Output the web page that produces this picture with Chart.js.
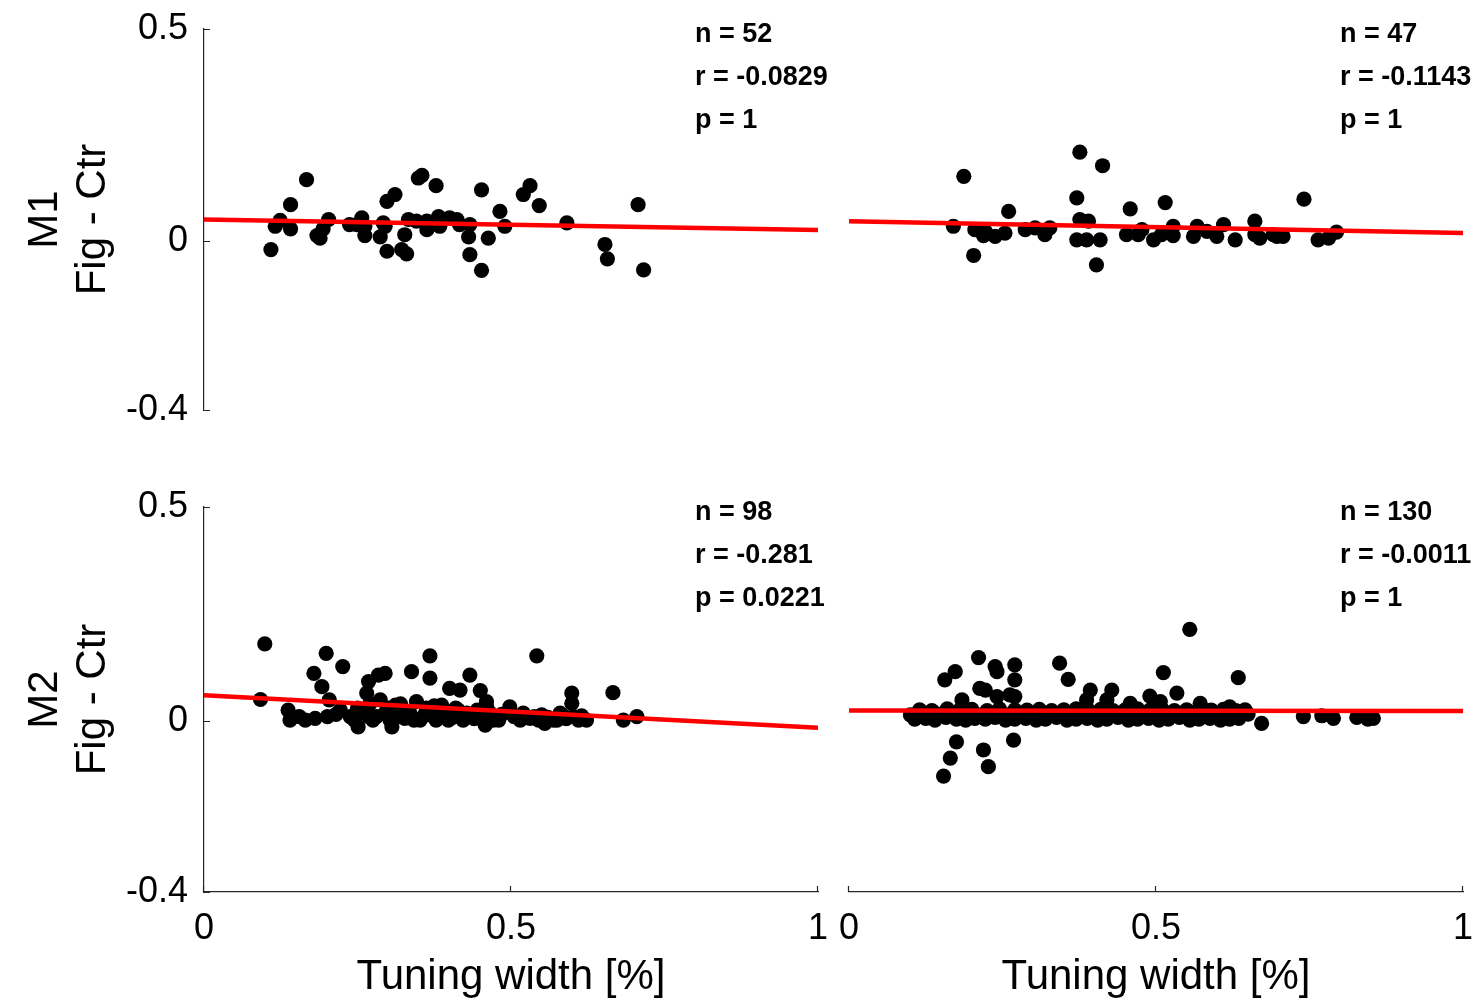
<!DOCTYPE html>
<html>
<head>
<meta charset="utf-8">
<script src="https://cdn.jsdelivr.net/npm/chart.js@4.4.1/dist/chart.umd.min.js"></script>
<style>
  html, body { margin: 0; padding: 0; background: #fff; overflow: hidden; }
  body { width: 1473px; height: 1003px; position: relative; }
  .panel { position: absolute; }
  .stats { position: absolute; font: bold 27px "Liberation Sans", Arial, sans-serif; line-height: 43px; color: #000; white-space: nowrap; }
</style>
</head>
<body>
<script>
// ---- data ----
const xTicks = [0, 0.5, 1];
const yTicks = [0.5, 0, -0.4];
const xTitle = 'Tuning width [%]';
const rowTitles = [['M1', 'Fig - Ctr'], ['M2', 'Fig - Ctr']];

// M1, left column
const m1LeftPts = [
  [.109,-.021],[.124,.048],[.116,.034],[.141,.028],[.141,.085],[.167,.144],[.184,.012],[.189,.006],
  [.203,.050],[.194,.028],[.237,.038],[.257,.054],[.249,.038],[.262,.012],[.262,.034],[.287,.009],
  [.295,.034],[.292,.042],[.298,-.025],[.298,.093],[.311,.109],[.327,.014],[.322,-.021],[.330,-.031],
  [.333,.050],[.346,.046],[.349,.148],[.355,.154],[.363,.046],[.363,.026],[.378,.130],[.382,.057],
  [.384,.034],[.400,.054],[.412,.050],[.416,.038],[.431,.009],[.433,.038],[.433,-.033],[.452,.120],
  [.452,-.070],[.463,.006],[.482,.069],[.490,.034],[.520,.109],[.531,.130],[.546,.083],[.591,.042],
  [.653,-.009],[.657,-.043],[.707,.085],[.716,-.069]
];
const m1LeftFit = [0.050, 0.025];
const m1LeftStats = ['n = 52', 'r = -0.0829', 'p = 1'];

// M1, right column
const m1RightPts = [
  [.170,.034],[.187,.152],[.203,-.035],[.205,.026],[.219,.012],[.222,.022],[.238,.010],[.254,.018],
  [.260,.069],[.287,.026],[.303,.030],[.319,.014],[.327,.030],[.371,.101],[.376,.209],[.376,.050],
  [.390,.046],[.371,.002],[.387,.002],[.409,.002],[.403,-.057],[.413,.177],[.458,.075],[.452,.014],
  [.471,.014],[.477,.026],[.496,.002],[.515,.090],[.509,.014],[.528,.034],[.528,.012],[.561,.010],
  [.567,.034],[.583,.022],[.599,.010],[.610,.038],[.629,.002],[.661,.046],[.661,.014],[.669,.006],
  [.691,.014],[.697,.010],[.707,.010],[.741,.098],[.764,.002],[.781,.006],[.794,.020]
];
const m1RightFit = [0.046, 0.018];
const m1RightStats = ['n = 47', 'r = -0.1143', 'p = 1'];

// M2, left column
const m2LeftPts = [
  [.099,.180],[.092,.050],[.137,.025],[.140,.002],[.165,.002],[.181,.006],[.179,.111],[.192,.080],
  [.199,.158],[.204,.049],[.201,.010],[.226,.127],[.222,.025],[.238,.010],[.251,-.014],[.268,.092],
  [.265,.065],[.268,.010],[.281,.010],[.287,.049],[.284,.107],[.295,.111],[.303,.002],[.306,-.014],
  [.312,.037],[.327,.006],[.338,.115],[.346,.045],[.352,.002],[.368,.152],[.368,.100],[.374,.010],
  [.387,.037],[.400,.076],[.417,.072],[.398,.002],[.414,.025],[.433,.107],[.433,.010],[.450,.071],
  [.460,.045],[.458,-.010],[.471,.002],[.498,.033],[.515,.002],[.542,.152],[.531,.006],[.550,.014],
  [.555,-.006],[.569,.002],[.580,.018],[.599,.065],[.599,.041],[.602,.010],[.623,.002],[.666,.066],
  [.683,.002],[.705,.010],
  [.155,.010],[.215,.015],[.245,.002],[.258,.020],[.275,.002],[.295,.018],[.318,.010],[.335,.020],
  [.342,.002],[.358,.012],[.362,.030],[.378,.002],[.392,.015],[.405,.008],[.410,.030],[.422,.002],
  [.428,.018],[.440,.005],[.445,.025],[.452,.012],[.465,.020],[.478,.008],[.485,.015],[.505,.010],
  [.520,.018],[.538,.010],[.545,.002],[.560,.008],[.575,.002],[.585,.012],[.590,.005],[.610,.002],
  [.615,.012],[.250,.030],[.270,.040],[.300,.030],[.320,.040],[.375,.035],[.460,.035],[.480,.002]
];
const m2LeftFit = [0.060, -0.016];
const m2LeftStats = ['n = 98', 'r = -0.281', 'p = 0.0221'];

// M2, right column
const m2RightPts = [
  [.555,.214],[.211,.148],[.238,.127],[.241,.115],[.270,.131],[.270,.096],[.156,.096],[.173,.115],
  [.343,.135],[.357,.097],[.512,.113],[.634,.101],[.213,.076],[.222,.072],[.241,.057],[.262,.061],
  [.270,.057],[.184,.049],[.393,.072],[.428,.072],[.490,.058],[.534,.065],[.387,.049],[.572,.041],
  [.672,-.006],[.175,-.049],[.165,-.087],[.154,-.129],[.219,-.068],[.227,-.107],[.268,-.045],
  [.420,.049],[.458,.041],[.620,.033],[.507,.045],
  [.107,.004],[.125,.006],[.140,.002],[.158,.008],[.175,.004],[.190,.002],[.205,.006],[.222,.004],
  [.238,.008],[.255,.002],[.270,.004],[.288,.006],[.305,.002],[.320,.004],[.338,.008],[.355,.002],
  [.370,.004],[.388,.006],[.405,.002],[.420,.004],[.438,.008],[.455,.002],[.470,.004],[.488,.006],
  [.505,.002],[.520,.004],[.538,.008],[.555,.002],[.570,.004],[.588,.006],[.605,.002],[.620,.004],
  [.635,.006],
  [.115,.026],[.135,.024],[.160,.028],[.180,.025],[.200,.027],[.225,.024],[.245,.028],[.270,.026],
  [.290,.025],[.310,.027],[.330,.024],[.350,.026],[.370,.028],[.390,.025],[.410,.027],[.430,.024],
  [.450,.026],[.470,.028],[.490,.025],[.510,.027],[.530,.024],[.550,.026],[.570,.028],[.590,.025],
  [.610,.027],[.630,.024],[.645,.026],
  [.300,.014],[.400,.016],[.500,.014],[.600,.016],[.460,.014],[.360,.016],[.260,.014],
  [.120,.014],[.145,.016],[.170,.014],[.195,.016],[.215,.014],[.235,.016],[.280,.014],[.320,.016],
  [.340,.014],[.380,.016],[.420,.014],[.440,.016],[.480,.014],[.520,.016],[.540,.014],[.560,.016],
  [.580,.014],[.615,.016],[.625,.014],[.650,.016],[.100,.014],[.310,.016],
  [.740,.010],[.770,.012],[.789,.006],[.827,.008],[.854,.006],[.845,.004]
];
const m2RightFit = [0.024, 0.023];
const m2RightStats = ['n = 130', 'r = -0.0011', 'p = 1'];

// ---- layout ----
const FONT = '"Liberation Sans", Arial, sans-serif';
const axisColor = '#262626';
const tickFont = 36;
const titleFont = 42;
const xScaleHeight = 109.2;

const panels = [
  {pts: m1LeftPts,  fit: m1LeftFit,  stats: m1LeftStats,  area: {l: 204, t: 29,  r: 818,  b: 410}, showY: true,  showX: false, row: 0},
  {pts: m1RightPts, fit: m1RightFit, stats: m1RightStats, area: {l: 849, t: 29,  r: 1463, b: 410}, showY: false, showX: false, row: 0},
  {pts: m2LeftPts,  fit: m2LeftFit,  stats: m2LeftStats,  area: {l: 204, t: 507, r: 818,  b: 892}, showY: true,  showX: true,  row: 1},
  {pts: m2RightPts, fit: m2RightFit, stats: m2RightStats, area: {l: 849, t: 507, r: 1463, b: 892}, showY: false, showX: true,  row: 1}
];

Chart.defaults.font.family = FONT;
Chart.defaults.color = '#000';

// small inward tick marks like the original figure
const inwardTicks = {
  id: 'inwardTicks',
  afterDraw(chart) {
    const {ctx, chartArea: a, scales} = chart;
    ctx.save();
    ctx.strokeStyle = axisColor;
    ctx.lineWidth = 1.2;
    ctx.beginPath();
    if (scales.y.options.display) {
      scales.y.ticks.forEach(t => {
        const py = Math.round(scales.y.getPixelForValue(t.value)) + 0.5;
        ctx.moveTo(a.left, py); ctx.lineTo(a.left + 6, py);
      });
    }
    if (scales.x.options.display) {
      scales.x.ticks.forEach(t => {
        const px = Math.round(scales.x.getPixelForValue(t.value)) - 0.5;
        ctx.moveTo(px, a.bottom); ctx.lineTo(px, a.bottom - 6);
      });
    }
    ctx.stroke();
    ctx.restore();
  }
};

panels.forEach((p, i) => {
  const padL = p.showY ? 10 : 30;
  const pad = {left: padL, top: 40, right: 40, bottom: p.showX ? 0 : 40};
  const left = p.showY ? 0 : p.area.l - padL;
  const top = p.area.t - pad.top;
  const width = p.area.r + pad.right - left;
  const height = p.area.b + (p.showX ? xScaleHeight : pad.bottom) - top;
  const yWidth = p.showY ? p.area.l - left - padL : 0;
  const xHeight = p.showX ? xScaleHeight : 0;

  const box = document.createElement('div');
  box.className = 'panel';
  box.style.cssText = `left:${left}px;top:${top}px;width:${width}px;height:${height}px;`;
  const canvas = document.createElement('canvas');
  canvas.id = 'panel' + i;
  box.appendChild(canvas);
  document.body.appendChild(box);

  const st = document.createElement('div');
  st.className = 'stats';
  st.style.left = (p.area.l + 491) + 'px';
  st.style.top = (p.area.t - 17) + 'px';
  st.innerHTML = p.stats.join('<br>');
  document.body.appendChild(st);

  new Chart(canvas, {
    type: 'scatter',
    data: {
      datasets: [
        {
          type: 'line',
          data: [{x: 0, y: p.fit[0]}, {x: 1, y: p.fit[1]}],
          borderColor: '#ff0000',
          borderWidth: 4.5,
          pointRadius: 0,
          fill: false
        },
        {
          data: p.pts.map(d => ({x: d[0], y: d[1]})),
          backgroundColor: '#000',
          borderWidth: 0,
          pointRadius: 7.6,
          pointHoverRadius: 7.6
        }
      ]
    },
    options: {
      responsive: true,
      maintainAspectRatio: false,
      animation: false,
      events: [],
      layout: {padding: pad},
      plugins: {legend: {display: false}, tooltip: {enabled: false}},
      scales: {
        x: {
          type: 'linear',
          min: 0, max: 1,
          display: p.showX,
          afterBuildTicks: s => { s.ticks = xTicks.map(v => ({value: v})); },
          afterFit: s => { s.height = xHeight; },
          grid: {display: false, drawTicks: false},
          border: {display: true, color: axisColor, width: 1.2},
          ticks: {padding: 15, font: {size: tickFont}, color: '#000', maxRotation: 0, callback: v => String(v)},
          title: {display: true, text: xTitle, font: {size: titleFont, lineHeight: 1.15}, color: '#000', padding: {top: 0, bottom: 0}}
        },
        y: {
          type: 'linear',
          min: -0.4, max: 0.5,
          display: p.showY,
          afterBuildTicks: s => { s.ticks = yTicks.map(v => ({value: v})); },
          afterFit: s => { s.width = yWidth; },
          grid: {display: false, drawTicks: false},
          border: {display: true, color: axisColor, width: 1.2},
          ticks: {padding: 16, font: {size: tickFont}, color: '#000', callback: v => String(v)},
          title: {display: true, text: rowTitles[p.row], font: {size: titleFont, lineHeight: 1.15}, color: '#000', padding: {top: 10.8, bottom: 0}}
        }
      }
    },
    plugins: [inwardTicks]
  });
});
</script>
</body>
</html>
